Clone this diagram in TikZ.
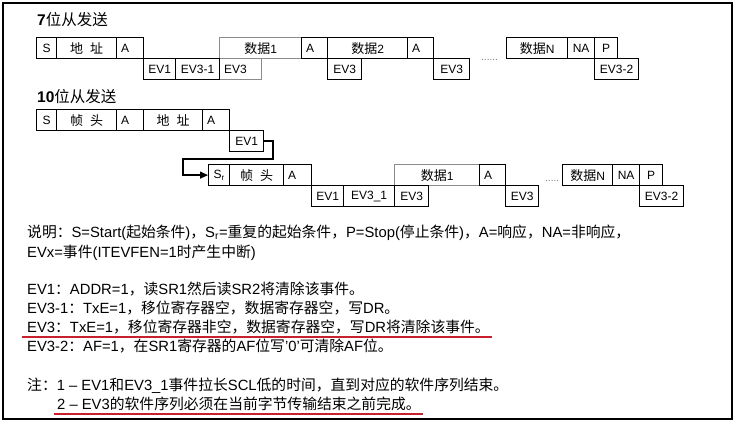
\documentclass[tikz,border=0pt]{standalone}
\usepackage{fontspec}
\setmainfont{Liberation Sans}
\newfontfamily\cjk{Noto Sans CJK SC}
\usetikzlibrary{arrows.meta}

\newcommand{\zh}[1]{{\cjk #1}}
\newcommand{\zhbox}[1]{{\cjk\fontsize{13}{14}\selectfont #1}}
\definecolor{mark}{RGB}{200,32,44}

\begin{document}
\begin{tikzpicture}[x=1pt,y=-1pt,
	cell/.style={draw, line width=1.2pt, anchor=north west, minimum height=21pt, inner sep=0pt, font=\fontsize{12}{14}\selectfont},
	lcell/.style={cell, inner xsep=4.5pt, align=left},
	pale/.style={draw=black!45},
	note/.style={anchor=base west, inner sep=0pt, font=\fontsize{14.8}{18}\selectfont},
	headline/.style={anchor=base west, inner sep=0pt, font=\fontsize{15.5}{18}\selectfont},
	gap/.style={anchor=base west, inner sep=0pt, text=black!55, font=\fontsize{10}{12}\selectfont},
	link/.style={line width=1.2pt, -{Triangle[length=8pt,width=7pt]}},
	underline/.style={draw=mark, line width=2pt}]
	\useasboundingbox (0,0) rectangle (742,425);

	% Frame
	\draw[line width=1.4pt] (3,3) rectangle (732,419);

	% 7-bit master transmitter
	\node[headline] (t1) at (37,26) {\textbf{7}\zh{位从发送}};

	\node[cell, pale, minimum width=82pt] (d1) at (219,37) {\zhbox{数据}1};
	\node[lcell, pale, minimum width=42pt, text width=33pt] (ev3a) at (219,58) {EV3};
	\node[cell, minimum width=20pt] (s1) at (36,37) {S};
	\node[cell, minimum width=60pt] (ad1) at (56,37) {\zhbox{地\hspace{7pt}址}};
	\node[lcell, minimum width=27pt, text width=18pt] (a1) at (116,37) {A};
	\node[cell, minimum width=32pt] (ev1a) at (143,58) {EV1};
	\node[cell, minimum width=44pt] (ev31a) at (175,58) {EV3-1};
	\node[lcell, minimum width=26pt, text width=17pt] (a2) at (301,37) {A};
	\node[cell, minimum width=80pt] (d2) at (327,37) {\zhbox{数据}2};
	\node[lcell, minimum width=26pt, text width=17pt] (a3) at (407,37) {A};
	\node[cell, minimum width=34pt] (ev3b) at (327,58) {EV3};
	\node[cell, minimum width=36pt] (ev3c) at (433,58) {EV3};
	\node[gap] (dots1) at (481,61) {......};
	\node[cell, minimum width=61pt] (dn1) at (506,37) {\zhbox{数据}N};
	\node[cell, minimum width=27pt] (na1) at (567,37) {NA};
	\node[cell, minimum width=23pt] (p1) at (594,37) {P};
	\node[cell, minimum width=44pt] (ev32a) at (594,58) {EV3-2};

	% 10-bit master transmitter
	\node[headline] (t2) at (37,103) {\textbf{10}\zh{位从发送}};

	\node[cell, pale, minimum width=85pt] (d3) at (394,164) {\zhbox{数据}1};
	\node[cell, minimum width=20pt] (s2) at (36,109) {S};
	\node[cell, minimum width=60pt] (hd1) at (56,109) {\zhbox{帧\hspace{7pt}头}};
	\node[lcell, minimum width=27pt, text width=18pt] (a4) at (116,109) {A};
	\node[cell, minimum width=59pt] (ad2) at (143,109) {\zhbox{地\hspace{7pt}址}};
	\node[lcell, minimum width=27pt, text width=18pt] (a5) at (202,109) {A};
	\node[cell, minimum width=34pt] (ev1b) at (229,130) {EV1};

	\node[cell, minimum width=21pt] (sr) at (208,164) {S\textsubscript{r}};
	\node[cell, minimum width=54pt] (hd2) at (229,164) {\zhbox{帧\hspace{7pt}头}};
	\node[lcell, minimum width=28pt, text width=19pt] (a6) at (283,164) {A};
	\node[cell, minimum width=32pt] (ev1c) at (311,185) {EV1};
	\node[cell, minimum width=51pt] (ev31b) at (343,185) {EV3\_1};
	\node[cell, minimum width=34pt] (ev3d) at (394,185) {EV3};
	\node[lcell, minimum width=26pt, text width=17pt] (a7) at (479,164) {A};
	\node[cell, minimum width=33pt] (ev3e) at (505,185) {EV3};
	\node[gap] (dots2) at (545,182) {.....};
	\node[cell, minimum width=50pt] (dn2) at (562,164) {\zhbox{数据}N};
	\node[cell, minimum width=27pt] (na2) at (612,164) {NA};
	\node[cell, minimum width=23pt] (p2) at (639,164) {P};
	\node[cell, minimum width=44pt] (ev32b) at (639,185) {EV3-2};

	% Repeated start
	\coordinate (k1) at (273,159);
	\coordinate (k2) at (183,159);
	\draw[link] (ev1b.east) -| (k1) -- (k2) |- (sr.west);

	% Notes
	\node[note] (l1) at (27,237) {\zh{说明：}S=Start(\zh{起始条件})\zh{，}S\textsubscript{r}=\zh{重复的起始条件，}P=Stop(\zh{停止条件})\zh{，}A=\zh{响应，}NA=\zh{非响应，}};
	\node[note] (l2) at (27,257) {EVx=\zh{事件}(ITEVFEN=1\zh{时产生中断})};
	\node[note] (l3) at (27,294) {EV1\zh{：}ADDR=1\zh{，读}SR1\zh{然后读}SR2\zh{将清除该事件。}};
	\node[note] (l4) at (27,313) {EV3-1\zh{：}TxE=1\zh{，移位寄存器空，数据寄存器空，写}DR\zh{。}};
	\node[note] (l5) at (27,332) {EV3\zh{：}TxE=1\zh{，移位寄存器非空，数据寄存器空，写}DR\zh{将清除该事件。}};
	\node[note] (l6) at (27,351) {EV3-2\zh{：}AF=1\zh{，在}SR1\zh{寄存器的}AF\zh{位写}'0'\zh{可清除}AF\zh{位。}};
	\node[note] (l7) at (27,390) {\zh{注：}1 – EV1\zh{和}EV3\_1\zh{事件拉长}SCL\zh{低的时间，直到对应的软件序列结束。}};
	\node[note] (l8) at (57,409) {2 – EV3\zh{的软件序列必须在当前字节传输结束之前完成。}};

	% Red marks
	\draw[underline] ([xshift=-5pt,yshift=-5pt]l5.base west) -- ([xshift=2pt,yshift=-5pt]l5.base east);
	\draw[underline] ([xshift=-3pt,yshift=-5pt]l8.base west) -- ([xshift=2pt,yshift=-5pt]l8.base east);
\end{tikzpicture}
\end{document}
